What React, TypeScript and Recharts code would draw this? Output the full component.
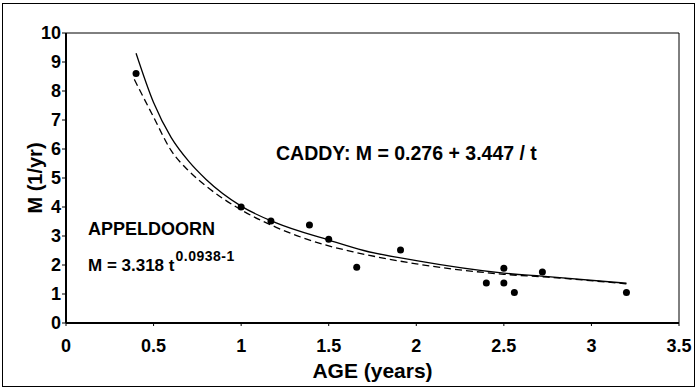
import React from 'react';
import {
  ComposedChart, Line, Scatter, XAxis, YAxis, ReferenceLine,
} from 'recharts';

// observed natural mortality by age
const ages = [0.4, 1.0, 1.17, 1.39, 1.5, 1.66, 1.91, 2.4, 2.5, 2.5, 2.56, 2.72, 3.2];
const mortality = [8.6, 4.0, 3.52, 3.38, 2.89, 1.92, 2.52, 1.38, 1.89, 1.38, 1.05, 1.76, 1.05];

// Caddy fit (solid)
const caddyAge = [0.4, 0.5, 0.6, 0.7, 0.8, 1.0, 1.2, 1.5, 1.7, 2.0, 2.5, 2.75, 3.2];
const caddyM = [9.3, 7.6, 6.4, 5.58, 4.95, 4.03, 3.45, 2.86, 2.5, 2.15, 1.72, 1.6, 1.37];

// Appeldoorn fit (dashed)
const appelAge = [0.39, 0.5, 0.6, 0.7, 0.8, 1.0, 1.2, 1.5, 1.65, 2.0, 2.5, 2.75, 3.2];
const appelM = [8.4, 7.1, 5.95, 5.25, 4.72, 3.9, 3.3, 2.66, 2.44, 2.04, 1.68, 1.58, 1.35];

const xTicks = [0, 0.5, 1, 1.5, 2, 2.5, 3, 3.5];
const yTicks = [0, 1, 2, 3, 4, 5, 6, 7, 8, 9, 10];

const FONT = '"Liberation Sans", Arial, sans-serif';

const points = ages.map((t, i) => ({ t, m: mortality[i] }));
const caddy = caddyAge.map((t, i) => ({ t, m: caddyM[i] }));
const appel = appelAge.map((t, i) => ({ t, m: appelM[i] }));

const tickStyle = { fontSize: 18, fontWeight: 700, fill: '#000', fontFamily: FONT };

export default function App() {
  return (
    <div style={{ position: 'absolute', left: 0, top: 0, width: 700, height: 389, background: '#fff' }}>
      <div
        style={{
          position: 'absolute', left: 2, top: 3, width: 693, height: 384,
          border: '1px solid #000', boxSizing: 'border-box',
        }}
      />
      <ComposedChart
        width={700}
        height={389}
        margin={{ top: 33, right: 21, left: 0, bottom: 0 }}
        style={{ position: 'absolute', left: 0, top: 0 }}
      >
        <XAxis
          type="number"
          dataKey="t"
          domain={[0, 3.5]}
          ticks={xTicks}
          height={66}
          tickSize={3}
          tickMargin={13}
          tick={tickStyle}
          axisLine={{ stroke: '#000', strokeWidth: 2 }}
          tickLine={{ stroke: '#000' }}
          allowDataOverflow
          label={{
            value: 'AGE (years)', position: 'insideBottom', offset: 11,
            style: { fontSize: 21, fontWeight: 700, fill: '#000', fontFamily: FONT },
          }}
        />
        <YAxis
          type="number"
          dataKey="m"
          domain={[0, 10]}
          ticks={yTicks}
          width={66}
          tickSize={4}
          tickMargin={1}
          tick={tickStyle}
          axisLine={{ stroke: '#000', strokeWidth: 2 }}
          tickLine={{ stroke: '#000' }}
          allowDataOverflow
          label={{
            value: 'M (1/yr)', angle: -90, position: 'center', dx: 2,
            style: { fontSize: 20, fontWeight: 700, fill: '#000', fontFamily: FONT },
          }}
        />
        <ReferenceLine y={10} stroke="#000" strokeWidth={1} />
        <ReferenceLine x={3.5} stroke="#000" strokeWidth={1} />
        <Line
          data={appel}
          dataKey="m"
          type="monotone"
          stroke="#000"
          strokeWidth={1.3}
          strokeDasharray="7 4"
          dot={false}
          isAnimationActive={false}
        />
        <Line
          data={caddy}
          dataKey="m"
          type="monotone"
          stroke="#000"
          strokeWidth={1.3}
          dot={false}
          isAnimationActive={false}
        />
        <Scatter
          data={points}
          dataKey="m"
          isAnimationActive={false}
          shape={(p: any) => <circle cx={p.cx} cy={p.cy} r={3.5} fill="#000" />}
        />
      </ComposedChart>
      <svg
        width={700}
        height={389}
        style={{ position: 'absolute', left: 0, top: 0, pointerEvents: 'none' }}
        fontFamily={FONT}
        fontWeight={700}
        fill="#000"
      >
        <text x={276} y={160} fontSize={19.5}>CADDY: M = 0.276 + 3.447 / t</text>
        <text x={88} y={235} fontSize={18}>APPELDOORN</text>
        <text x={88} y={271} fontSize={17}>
          M = 3.318 t
          <tspan dx={1} dy={-10} fontSize={14} letterSpacing={0.5}>0.0938-1</tspan>
        </text>
      </svg>
    </div>
  );
}
